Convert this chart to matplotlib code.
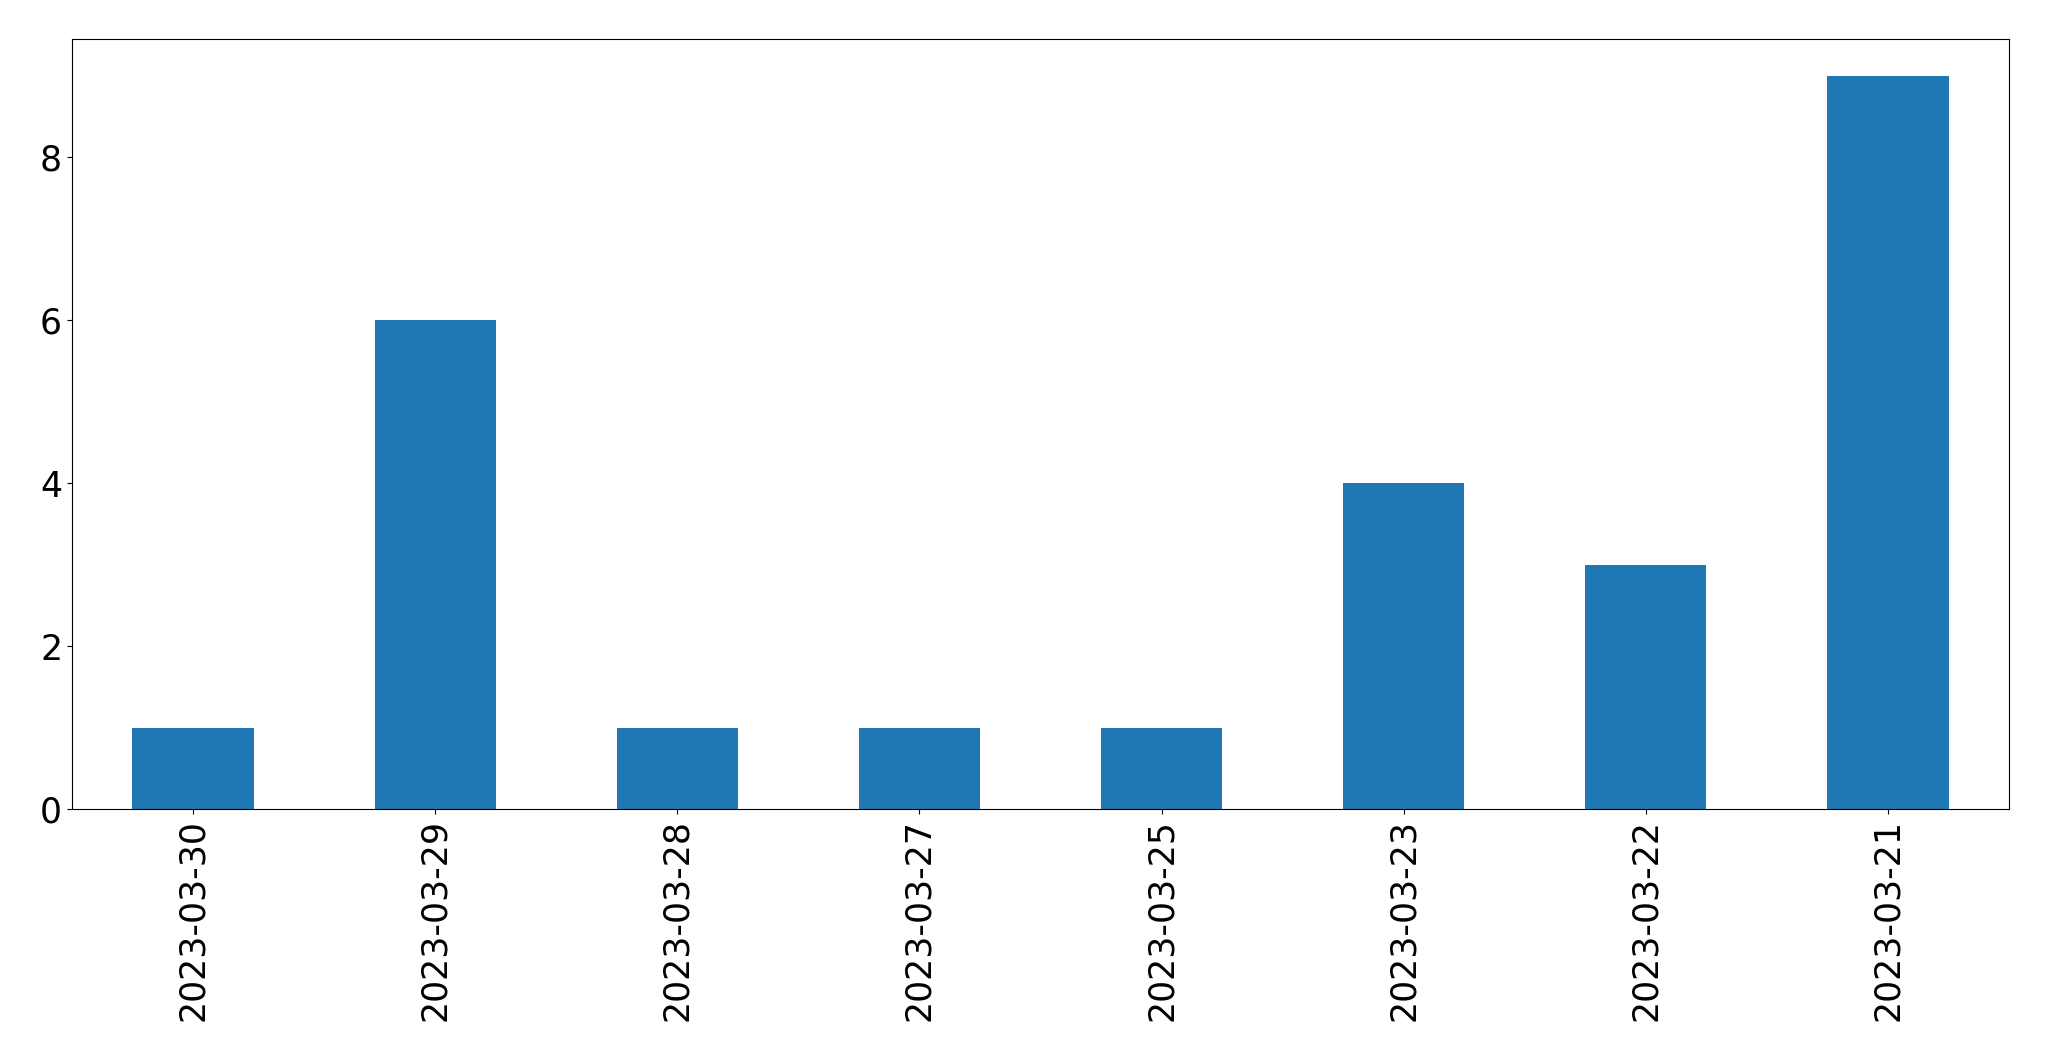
import matplotlib
matplotlib.use("Agg")
import matplotlib.pyplot as plt

dates = ["2023-03-30", "2023-03-29", "2023-03-28", "2023-03-27",
         "2023-03-25", "2023-03-23", "2023-03-22", "2023-03-21"]
counts = [1, 6, 1, 1, 1, 4, 3, 9]

fig, ax = plt.subplots(figsize=(20.49, 10.61), dpi=100)
fig.subplots_adjust(left=0.0351, right=0.9805, top=0.9632, bottom=0.2375)

x = range(len(dates))
ax.bar(x, counts, width=0.5, color="#1f77b4")
ax.set_xlim(-0.5, len(dates) - 0.5)
ax.set_xticks(list(x))
ax.set_xticklabels(dates, rotation=90)
ax.tick_params(labelsize=25)

fig.savefig("out.png", dpi=100)
